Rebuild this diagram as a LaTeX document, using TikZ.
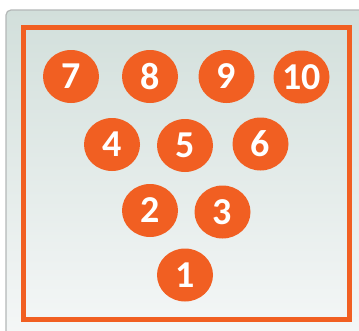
\documentclass[tikz,border=0pt]{standalone}
\usepackage{fontspec}
\usetikzlibrary{shapes.geometric}
\setmainfont{Carlito}
\definecolor{pinorange}{HTML}{F15F22}
\definecolor{bgtop}{HTML}{D2DFDB}
\definecolor{bgbot}{HTML}{F6F8F8}
\definecolor{paneledge}{HTML}{B4B8B8}
\begin{document}
\begin{tikzpicture}[x=1pt,y=-1pt,
  pin/.style={ellipse, fill=pinorange, draw=none, minimum width=56pt, minimum height=53pt, inner sep=0pt,
    text=white, font=\fontsize{38}{42}\selectfont\bfseries},
  frame/.style={draw=pinorange, line width=5pt}]
\useasboundingbox (0,0) rectangle (359,330);
\fill[white] (0,0) rectangle (359,330);
\begin{scope}
\clip (0,0) rectangle (359,330);
\shade[top color=bgtop, bottom color=bgbot, draw=paneledge, line width=1.2pt, rounded corners=5pt]
  (6,10) rectangle (380,350);
\end{scope}
\draw[frame] (23.5,27.5) rectangle (349.5,319.5);
\node[pin] (p7) at (71,76.5) {7};
\node[pin] (p8) at (150,76.5) {8};
\node[pin] (p9) at (226.5,76.5) {9};
\node[pin] (p10) at (301.5,77) {10};
\node[pin] (p4) at (112,144.5) {4};
\node[pin] (p5) at (185,145.5) {5};
\node[pin] (p6) at (260.5,144) {6};
\node[pin] (p2) at (150,210.5) {2};
\node[pin] (p3) at (222.5,212) {3};
\node[pin] (p1) at (185,275) {1};
\end{tikzpicture}
\end{document}
